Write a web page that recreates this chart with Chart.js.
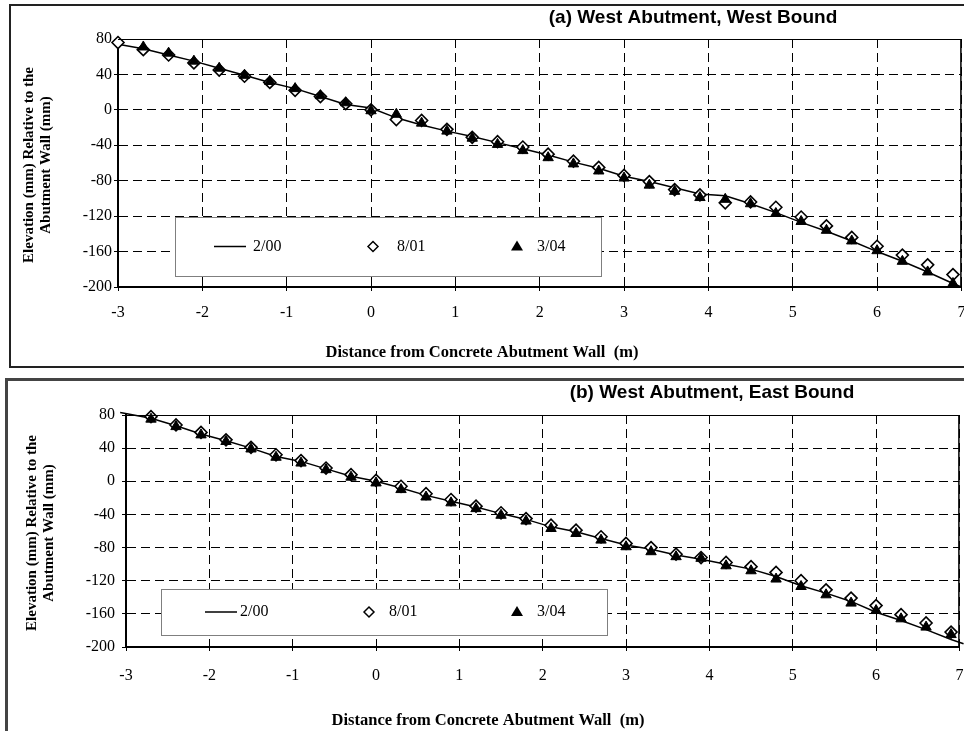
<!DOCTYPE html>
<html><head><meta charset="utf-8">
<script src="https://cdn.jsdelivr.net/npm/chart.js@4"></script>
<style>
html,body{margin:0;padding:0;background:#fff;overflow:hidden;}
#wrap{position:relative;width:964px;height:731px;overflow:hidden;background:#fff;}
canvas{position:absolute;left:0;}
.frame{position:absolute;pointer-events:none;box-sizing:border-box;}
</style></head><body>
<div id="wrap">
<canvas id="ca" width="969" height="370" style="top:0;width:969px;height:370px"></canvas>
<canvas id="cb" width="967" height="361" style="top:370px;width:967px;height:361px"></canvas>
<div class="frame" style="left:9px;top:4px;width:970px;height:364px;border:2px solid #222"></div>
<div class="frame" style="left:5px;top:378px;width:975px;height:400px;border:3px solid #444"></div>
</div>
<script>
// ---- shared labels ----
const seriesLabels = ['2/00', '8/01', '3/04'];
const xTitle = 'Distance from Concrete Abutment Wall  (m)';
const yTitleLines = ['Elevation (mm) Relative to the', 'Abutment Wall (mm)'];
const xTicks = [-3, -2, -1, 0, 1, 2, 3, 4, 5, 6, 7];
const yTicks = [-200, -160, -120, -80, -40, 0, 40, 80];

// ---- panel (a) West Abutment, West Bound ----
const titleA = '(a) West Abutment, West Bound';
const xA200 = [-3,-2.7,-2.4,-2.1,-1.8,-1.5,-1.2,-0.9,-0.6,-0.3,0,0.3,0.6,0.9,1.2,1.5,1.8,2.1,2.4,2.7,3,3.3,3.6,3.9,4.2,4.5,4.8,5.1,5.4,5.7,6,6.3,6.6,6.9,7];
const yA200 = [74,69,62,55,47,39,31,24,15,6,2,-9,-17,-24,-30,-37,-44,-51,-59,-66,-75,-81,-88,-95,-97,-106,-116,-127,-137,-148,-160,-171,-183,-196,-200];
const xA801 = [-3,-2.7,-2.4,-2.1,-1.8,-1.5,-1.2,-0.9,-0.6,-0.3,0,0.3,0.6,0.9,1.2,1.5,1.8,2.1,2.4,2.7,3,3.3,3.6,3.9,4.2,4.5,4.8,5.1,5.4,5.7,6,6.3,6.6,6.9];
const yA801 = [76,68,62,53,45,38,31,22,15,7,0,-11,-12,-22,-31,-36,-42,-50,-58,-65,-74,-81,-90,-96,-105,-104,-110,-121,-131,-144,-154,-164,-175,-186];
const xA304 = [-2.7,-2.4,-2.1,-1.8,-1.5,-1.2,-0.9,-0.6,-0.3,0,0.3,0.6,0.9,1.2,1.5,1.8,2.1,2.4,2.7,3,3.3,3.6,3.9,4.2,4.5,4.8,5.1,5.4,5.7,6,6.3,6.6,6.9];
const yA304 = [71,64,55,47,39,32,24,16,8,-1,-5,-15,-24,-32,-39,-46,-54,-61,-69,-77,-85,-92,-99,-101,-106,-117,-126,-136,-148,-159,-171,-183,-196];

// ---- panel (b) West Abutment, East Bound ----
const titleB = '(b) West Abutment, East Bound';
const xB200 = [-3.07,-2.7,-2.4,-2.1,-1.8,-1.5,-1.2,-0.9,-0.6,-0.3,0,0.3,0.6,0.9,1.2,1.5,1.8,2.1,2.4,2.7,3,3.3,3.6,3.9,4.2,4.5,4.8,5.1,5.4,5.7,6,6.3,6.6,6.9,7.05];
const yB200 = [83,76,67,57,49,40,30,24,15,6,0,-8,-17,-24,-31,-39,-46,-55,-61,-69,-77,-82,-89,-94,-100,-106,-115,-126,-135,-145,-158,-168,-179,-191,-196];
const xB801 = [-2.7,-2.4,-2.1,-1.8,-1.5,-1.2,-0.9,-0.6,-0.3,0,0.3,0.6,0.9,1.2,1.5,1.8,2.1,2.4,2.7,3,3.3,3.6,3.9,4.2,4.5,4.8,5.1,5.4,5.7,6,6.3,6.6,6.9];
const yB801 = [78,68,59,50,41,32,25,16,8,1,-6,-15,-22,-30,-38,-45,-53,-59,-67,-75,-80,-88,-92,-98,-103,-110,-120,-131,-141,-150,-161,-171,-182];
const yB304 = [75,66,56,48,39,29,22,14,5,-2,-10,-19,-26,-33,-41,-48,-57,-63,-71,-79,-85,-91,-93,-102,-108,-118,-127,-137,-147,-156,-166,-176,-185];

function pts(xs, ys) { return xs.map((x, i) => ({ x: x, y: ys[i] })); }

function makePanel(id, L) {
  const serif = 'Liberation Serif, Times New Roman, serif';
  const deco = {
    id: 'deco',
    afterDraw(chart) {
      const ctx = chart.ctx, a = chart.chartArea;
      ctx.save();
      // solid top/right frame of plot area
      ctx.strokeStyle = '#000';
      ctx.lineWidth = 1;
      ctx.beginPath();
      ctx.moveTo(a.left, a.top + 0.5); ctx.lineTo(a.right, a.top + 0.5);
      ctx.stroke();
      ctx.lineWidth = 1.5;
      ctx.beginPath();
      ctx.moveTo(a.right - 0.5, a.top); ctx.lineTo(a.right - 0.5, a.bottom);
      ctx.stroke();
      // panel title
      ctx.fillStyle = '#000';
      ctx.textAlign = 'center';
      ctx.textBaseline = 'middle';
      ctx.font = 'bold 19px Liberation Sans, Arial, sans-serif';
      ctx.fillText(L.title, L.titleX, L.titleY);
      // x title
      ctx.font = 'bold 16.5px ' + serif;
      ctx.fillText(xTitle, L.xtX, L.xtY);
      // y title
      ctx.font = 'bold 15px ' + serif;
      ctx.save();
      ctx.translate(L.ytX, L.ytY);
      ctx.rotate(-Math.PI / 2);
      ctx.fillText(yTitleLines[0], 0, 0);
      ctx.fillText(yTitleLines[1], 0, 17);
      ctx.restore();
      // legend box
      const g = L.leg;
      ctx.fillStyle = '#fff';
      ctx.fillRect(g.x, g.y, g.w, g.h);
      ctx.strokeStyle = '#7f7f7f';
      ctx.lineWidth = 1;
      ctx.strokeRect(g.x + 0.5, g.y + 0.5, g.w, g.h);
      const cy = g.y + g.h / 2;
      ctx.strokeStyle = '#000';
      ctx.lineWidth = 1.5;
      ctx.beginPath(); ctx.moveTo(g.l1, cy); ctx.lineTo(g.l2, cy); ctx.stroke();
      ctx.fillStyle = '#fff'; ctx.strokeStyle = '#000'; ctx.lineWidth = 1.5;
      ctx.beginPath();
      ctx.moveTo(g.d - 5, cy); ctx.lineTo(g.d, cy - 5); ctx.lineTo(g.d + 5, cy); ctx.lineTo(g.d, cy + 5); ctx.closePath();
      ctx.fill(); ctx.stroke();
      ctx.fillStyle = '#000';
      ctx.beginPath();
      ctx.moveTo(g.t, cy - 6); ctx.lineTo(g.t + 6, cy + 4); ctx.lineTo(g.t - 6, cy + 4); ctx.closePath();
      ctx.fill();
      ctx.font = '16px ' + serif;
      ctx.textAlign = 'left';
      ctx.fillText(seriesLabels[0], g.t1, cy);
      ctx.fillText(seriesLabels[1], g.t2, cy);
      ctx.fillText(seriesLabels[2], g.t3, cy);
      ctx.restore();
    }
  };
  return new Chart(document.getElementById(id), {
    type: 'scatter',
    data: {
      datasets: [
        { label: seriesLabels[0], data: pts(L.x200, L.y200), showLine: true, borderColor: '#000', borderWidth: 1.5,
          pointRadius: 0, tension: 0, order: 3, clip: false },
        { label: seriesLabels[1], data: pts(L.x801, L.y801), showLine: false, pointStyle: 'rectRot', pointRadius: 6,
          pointBackgroundColor: '#fff', pointBorderColor: '#000', pointBorderWidth: 1.6, order: 2, clip: false },
        { label: seriesLabels[2], data: pts(L.x304, L.y304), showLine: false, pointStyle: 'triangle', pointRadius: 6,
          pointBackgroundColor: '#000', pointBorderColor: '#000', pointBorderWidth: 1, order: 1, clip: false }
      ]
    },
    options: {
      responsive: false, animation: false, devicePixelRatio: 1,
      layout: { padding: { left: 0, top: L.top, right: L.right, bottom: 0 } },
      plugins: { legend: { display: false }, tooltip: { enabled: false }, title: { display: false } },
      scales: {
        x: {
          type: 'linear', min: xTicks[0], max: xTicks[xTicks.length - 1],
          afterBuildTicks(s) { s.ticks = xTicks.map(v => ({ value: v })); },
          ticks: { font: { family: serif, size: 16 }, color: '#000', padding: L.xPad, maxRotation: 0 },
          grid: { color: '#000', lineWidth: 1, tickLength: 4, tickColor: '#000', tickBorderDash: [], tickWidth: 1 },
          border: { color: '#000', width: 2, dash: [9, 5] },
          afterFit(s) { s.height = L.xH; s.paddingLeft = 0; s.paddingRight = 0; }
        },
        y: {
          type: 'linear', min: yTicks[0], max: yTicks[yTicks.length - 1],
          afterBuildTicks(s) { s.ticks = yTicks.map(v => ({ value: v })); },
          ticks: { font: { family: serif, size: 16 }, color: '#000', padding: L.yPad },
          grid: { color: '#000', lineWidth: 1, tickLength: 4, tickColor: '#000', tickBorderDash: [], tickWidth: 1 },
          border: { color: '#000', width: 2, dash: [9, 5] },
          afterFit(s) { s.width = L.yW; s.paddingTop = 0; s.paddingBottom = 0; }
        }
      }
    },
    plugins: [deco]
  });
}

makePanel('ca', {
  title: titleA, titleX: 693, titleY: 18,
  x200: xA200, y200: yA200, x801: xA801, y801: yA801, x304: xA304, y304: yA304,
  top: 39, right: 2, xH: 83, yW: 118, xPad: 12, yPad: 2,
  xtX: 482, xtY: 353, ytX: 29, ytY: 165,
  leg: { x: 175, y: 217, w: 426, h: 59, l1: 214, l2: 246, t1: 253, d: 373, t2: 397, t: 517, t3: 537 }
});
makePanel('cb', {
  title: titleB, titleX: 712, titleY: 23,
  x200: xB200, y200: yB200, x801: xB801, y801: yB801, x304: xB801, y304: yB304,
  top: 45, right: 4, xH: 84, yW: 126, xPad: 15, yPad: 7,
  xtX: 488, xtY: 351, ytX: 32, ytY: 163,
  leg: { x: 161, y: 219, w: 446, h: 46, l1: 205, l2: 237, t1: 240, d: 369, t2: 389, t: 517, t3: 537 }
});
</script>
</body></html>
